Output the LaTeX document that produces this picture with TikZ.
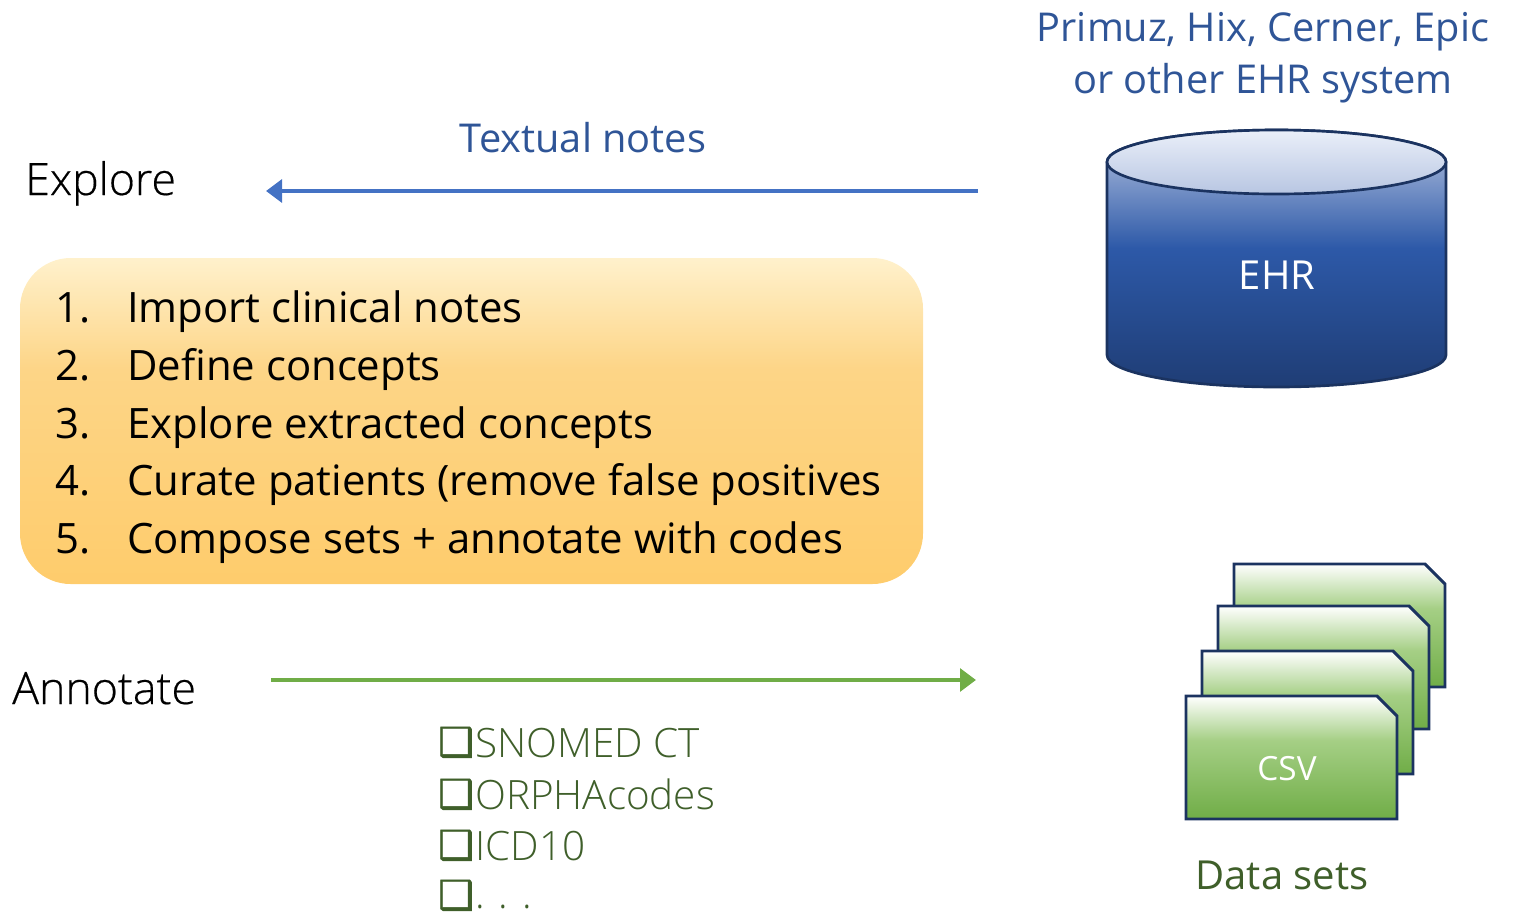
\documentclass[tikz,border=0pt]{standalone}
\usepackage{fontspec}
\setmainfont{Open Sans}
\newfontfamily\lightfont{Open Sans Light}
\newfontfamily\headfont[FakeBold=0.4]{Open Sans Light}
\newfontfamily\symfont[FakeBold=1.2]{DejaVu Sans}
\usetikzlibrary{arrows.meta}
\definecolor{ehrtext}{HTML}{2F5597}
\definecolor{codetext}{HTML}{3F5F2A}
\definecolor{explorearrow}{HTML}{4472C4}
\definecolor{annotatearrow}{HTML}{70AD47}
\definecolor{edgeblue}{HTML}{1B3360}
\pgfdeclareverticalshading{ehrbody}{100bp}{color(0bp)=(rgb,255:red,31;green,61;blue,117);
  color(25bp)=(rgb,255:red,31;green,61;blue,117);
  color(52bp)=(rgb,255:red,45;green,89;blue,168);
  color(75bp)=(rgb,255:red,185;green,198;blue,226);
  color(100bp)=(rgb,255:red,185;green,198;blue,226)}
\pgfdeclareverticalshading{ehrlid}{100bp}{color(0bp)=(rgb,255:red,184;green,198;blue,226);
  color(25bp)=(rgb,255:red,184;green,198;blue,226);
  color(75bp)=(rgb,255:red,234;green,239;blue,249);
  color(100bp)=(rgb,255:red,234;green,239;blue,249)}
\pgfdeclareverticalshading{cardfill}{100bp}{color(0bp)=(rgb,255:red,112;green,173;blue,71);
  color(25bp)=(rgb,255:red,112;green,173;blue,71);
  color(57bp)=(rgb,255:red,165;green,207;blue,133);
  color(75bp)=(rgb,255:red,255;green,255;blue,255);
  color(100bp)=(rgb,255:red,255;green,255;blue,255)}
\pgfdeclareverticalshading{stepsfill}{100bp}{color(0bp)=(rgb,255:red,254;green,204;blue,108);
  color(25bp)=(rgb,255:red,254;green,204;blue,108);
  color(58bp)=(rgb,255:red,253;green,213;blue,135);
  color(75bp)=(rgb,255:red,255;green,241;blue,204);
  color(100bp)=(rgb,255:red,255;green,241;blue,204)}
\tikzset{
  heading/.style={font=\headfont\fontsize{33.5}{34}\selectfont, anchor=base west, inner sep=0pt},
  blueline/.style={font=\fontsize{29.8}{30}\selectfont, text=ehrtext, anchor=base, inner sep=0pt},
  stepnum/.style={font=\fontsize{31.4}{32}\selectfont, anchor=base west, inner sep=0pt},
  steptext/.style={font=\fontsize{31.4}{32}\selectfont, anchor=base west, inner sep=0pt},
  codeitem/.style={font=\lightfont\fontsize{30.3}{31}\selectfont, text=codetext, anchor=base west, inner sep=0pt},
  codebox/.style={font=\symfont\fontsize{30}{31}\selectfont, text=codetext, anchor=base west, inner sep=0pt},
  card/.style={draw=edgeblue, line width=2.2pt, shading=cardfill},
  flow/.style={line width=3pt, -{Triangle[length=12pt, width=17pt]}},
}
\begin{document}
\begin{tikzpicture}[x=0.75pt, y=-0.75pt]
  \useasboundingbox (0, 0) rectangle (1519, 911);
  \node[blueline] (ehrnameone) at (1263, 41) {Primuz, Hix, Cerner, Epic};
  \node[blueline] (ehrnametwo) at (1263, 93) {or other EHR system};
  \node[blueline] (textual) at (583, 152) {Textual notes};
  \node[heading] (explore) at (25, 195) {Explore};
  \node[heading] (annotate) at (12, 704) {Annotate};
  \coordinate (ehrout) at (978, 191);
  \coordinate (explorein) at (266, 191);
  \coordinate (annotateout) at (271, 680);
  \coordinate (setsin) at (976, 680);
  \draw[flow, draw=explorearrow, -{Triangle[length=12pt, width=17pt, fill=explorearrow]}] (ehrout) -- (explorein);
  \draw[flow, draw=annotatearrow] (annotateout) -- (setsin);

  \draw[shading=ehrbody, draw=edgeblue, line width=2pt] (1107, 162) -- (1107, 355)
    arc[start angle=180, end angle=0, x radius=169.5, y radius=32] -- (1446, 162)
    arc[start angle=0, end angle=-180, x radius=169.5, y radius=32] -- cycle;
  \draw[shading=ehrlid, draw=edgeblue, line width=2pt] (1276.5, 162) ellipse[x radius=169.5, y radius=32];
  \node[text=white, font=\fontsize{30}{30}\selectfont, anchor=base, inner sep=0pt] (ehr) at (1277, 289) {EHR};

  \draw[rounded corners=38pt, shading=stepsfill, draw=none] (20, 258) rectangle (923, 584);
  \node[stepnum] (numone) at (55, 322) {1.};
  \node[stepnum] (numtwo) at (55, 380) {2.};
  \node[stepnum] (numthree) at (55, 438) {3.};
  \node[stepnum] (numfour) at (55, 495) {4.};
  \node[stepnum] (numfive) at (55, 553) {5.};
  \node[steptext] (stepone) at (127, 322) {Import clinical notes};
  \node[steptext] (steptwo) at (127, 380) {Define concepts};
  \node[steptext] (stepthree) at (127, 438) {Explore extracted concepts};
  \node[steptext] (stepfour) at (127, 495) {Curate patients (remove false positives};
  \node[steptext] (stepfive) at (127, 553) {Compose sets + annotate with codes};

  \draw[card] (1234, 564) -- (1425, 564) -- (1445, 584) -- (1445, 687) -- (1234, 687) -- cycle;
  \draw[card] (1218, 606) -- (1409, 606) -- (1429, 626) -- (1429, 729) -- (1218, 729) -- cycle;
  \draw[card] (1202, 651) -- (1393, 651) -- (1413, 671) -- (1413, 774) -- (1202, 774) -- cycle;
  \draw[card] (1186, 696) -- (1377, 696) -- (1397, 716) -- (1397, 819) -- (1186, 819) -- cycle;
  \node[text=white, font=\fontsize{25}{25}\selectfont, anchor=base, inner sep=0pt] (csv) at (1287, 780) {CSV};
  \node[font=\fontsize{30}{30}\selectfont, text=codetext, anchor=base, inner sep=0pt] (datasets) at (1282, 889) {Data sets};

  \node[codebox] (boxone) at (438, 756) {❑};
  \node[codebox] (boxtwo) at (438, 808) {❑};
  \node[codebox] (boxthree) at (438, 859) {❑};
  \node[codebox] (boxfour) at (438, 909) {❑};
  \node[codeitem] (snomed) at (475, 757) {SNOMED CT};
  \node[codeitem] (orpha) at (475, 809) {ORPHAcodes};
  \node[codeitem] (icd) at (475, 860) {ICD10};
  \node[codeitem] (more) at (475, 908) {. . .};
\end{tikzpicture}
\end{document}
